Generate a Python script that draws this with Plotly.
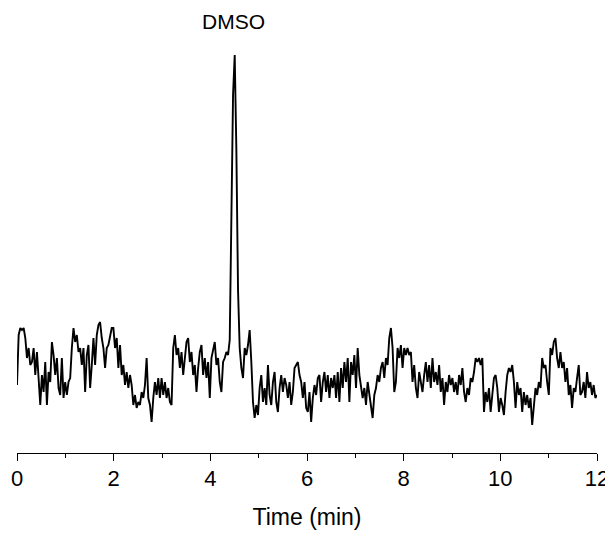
import numpy as np
import plotly.graph_objects as go

# Detector signal (arbitrary units), in time order (0-12 min)
sig_0_2min = [55,105,112,110,112,102,82,92,75,78,92,65,88,58,35,65,48,78,35,68,58,98,85,65,82,52,45,82,42,58,
              45,58,62,92,112,98,105,88,92,75,92,48,85,95,52,75,102,75,105,115,118,102,92,72,92,95,105,112]
sig_2_4min = [112,92,102,72,95,65,75,55,68,52,65,55,35,45,32,38,35,48,42,55,82,42,35,18,42,58,45,62,42,62,
              45,58,42,52,38,35,92,105,85,92,72,88,65,85,98,102,78,88,65,75,48,72,88,95,65,82,62,78,42]
sig_4_6min = [82,92,98,75,82,58,48,78,82,88,85,100,210,345,385,290,150,92,72,62,92,85,95,110,78,38,22,35,25,52,
              65,38,52,35,75,45,35,58,68,38,28,52,65,48,62,55,42,58,35,48,72,75,78,65,58,42,58,32,28]
sig_6_8min = [48,18,42,55,45,62,65,38,58,68,48,65,42,62,52,65,42,68,38,72,52,78,58,82,38,78,65,85,52,92,
              65,55,42,52,35,58,45,35,22,45,52,65,58,72,78,62,82,75,102,112,92,48,58,92,82,95,72,92,85]
sig_8_10min = [92,85,88,58,75,52,42,68,58,48,65,78,58,75,52,82,58,68,55,75,48,62,35,58,48,65,55,62,48,58,
               45,65,55,72,48,38,52,45,62,58,68,82,78,82,75,82,28,48,38,52,28,48,62,65,52,28,42,35,25]
sig_10_12min = [48,65,72,68,75,58,32,58,45,52,28,48,35,45,32,42,15,35,52,45,58,52,82,72,75,58,45,92,85,98,
                102,82,72,88,72,78,58,72,45,55,32,52,48,62,75,45,48,58,42,68,52,58,45,55,42,45]

signal = sig_0_2min + sig_2_4min + sig_4_6min + sig_6_8min + sig_8_10min + sig_10_12min
time_min = np.linspace(0, 12, len(signal))  # detector sampling grid

peak_label = "DMSO"
peak_time = 4.48
x_ticks = [0, 2, 4, 6, 8, 10, 12]

FONT = "Liberation Sans, Arial, sans-serif"

fig = go.Figure()
fig.add_trace(go.Scatter(x=time_min, y=signal, mode="lines",
                         line=dict(color="black", width=1.9), hoverinfo="skip",
                         showlegend=False, cliponaxis=False))

fig.add_annotation(x=peak_time, y=1.045, xref="x", yref="paper", yanchor="middle",
                   text=peak_label, showarrow=False,
                   font=dict(family=FONT, size=21, color="black"))

# page body has an 8px margin, so the figure is 8px smaller than the window
fig.update_layout(
    width=605, height=551,
    margin=dict(l=9, r=16, t=32, b=106, autoexpand=False),
    paper_bgcolor="white", plot_bgcolor="white",
    font=dict(family=FONT, color="black"),
    xaxis=dict(range=[0, 12], showline=True, linecolor="black", linewidth=1.3,
               ticks="outside", ticklen=7, tickwidth=1.3, tickcolor="black",
               tickvals=x_ticks, ticktext=[str(v) for v in x_ticks],
               minor=dict(ticks="outside", ticklen=4, tickwidth=1.3, tickcolor="black", dtick=1),
               showgrid=False, zeroline=False, automargin=False,
               ticklabelstandoff=-2,
               tickfont=dict(family=FONT, size=22, color="black"),
               title=dict(text="Time (min)", font=dict(family=FONT, size=23, color="black"),
                          standoff=19)),
    yaxis=dict(range=[-13, 400], visible=False, showgrid=False, zeroline=False, automargin=False),
)

fig.write_html("out.html")
